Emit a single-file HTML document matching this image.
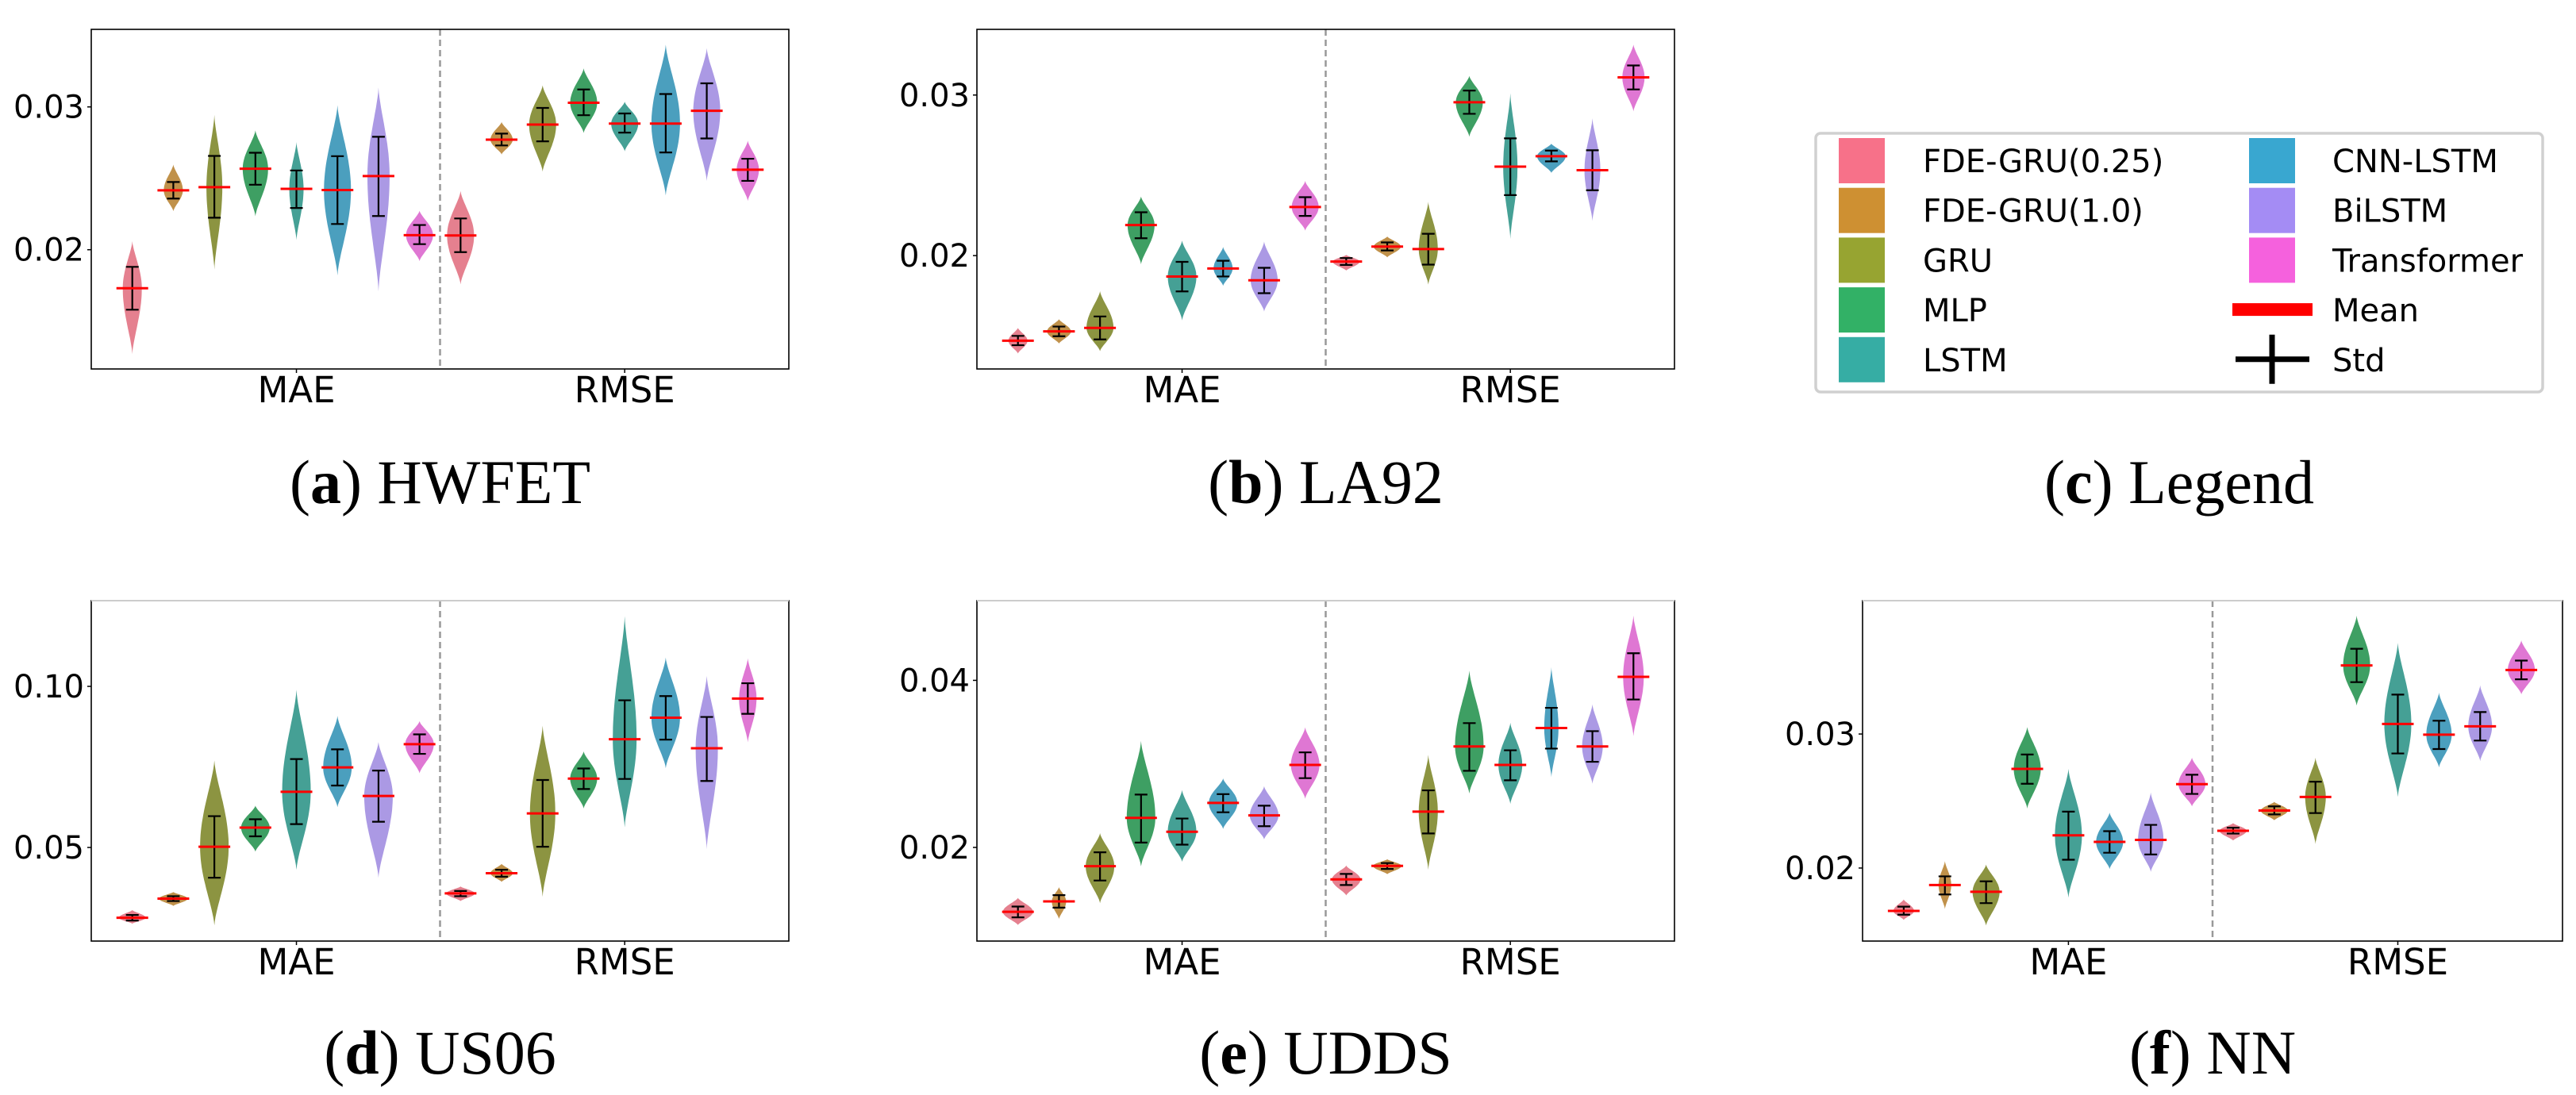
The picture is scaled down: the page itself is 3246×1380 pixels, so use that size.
<!DOCTYPE html>
<html><head><meta charset="utf-8"><style>
html,body{margin:0;padding:0;background:#fff;}
svg{display:block;}
.tick{font-family:"DejaVu Sans","Liberation Sans",sans-serif;font-size:40px;fill:#000;}
.cap{font-family:"Liberation Serif",serif;font-size:78px;fill:#000;}
.leg{font-family:"DejaVu Sans","Liberation Sans",sans-serif;font-size:40px;fill:#000;}
</style></head><body>
<svg id="fig" width="3246" height="1380" viewBox="0 0 3246 1380" xmlns="http://www.w3.org/2000/svg"></svg>
<script>
// ---------- data ----------
const models = ["FDE-GRU(0.25)","FDE-GRU(1.0)","GRU","MLP","LSTM","CNN-LSTM","BiLSTM","Transformer"];
const metrics = ["MAE","RMSE"];
const violinColors = ["#e5808f","#c0914a","#8c9441","#3e9f63","#45a095","#4b9fbe","#ab99e4","#df77d3"];
const legendColors = ["#f77189","#ce9032","#97a431","#32b166","#36ada4","#39a7d0","#a48cf4","#f561dd"];

// HWFET
const hwfetMean = [0.0173,0.02416,0.02438,0.02567,0.02426,0.02418,0.02516,0.02102, 0.0210,0.02771,0.02876,0.03029,0.02883,0.02883,0.02973,0.0256];
const hwfetStdHi = [0.0188,0.02474,0.02657,0.02679,0.02555,0.02655,0.02791,0.02173, 0.02219,0.02813,0.02993,0.03122,0.02954,0.0309,0.03165,0.02637];
const hwfetStdLo = [0.0158,0.02358,0.02224,0.02455,0.02292,0.0218,0.02236,0.02039, 0.01983,0.0273,0.02759,0.02942,0.0282,0.02681,0.02779,0.02482];
const hwfetMax = [0.0206,0.02596,0.02944,0.02835,0.02754,0.03012,0.03136,0.02273, 0.02411,0.02895,0.03151,0.0327,0.03036,0.03436,0.03411,0.02764];
const hwfetMin = [0.0127,0.0227,0.01861,0.02234,0.02068,0.0182,0.01708,0.0192, 0.01757,0.02667,0.02547,0.02818,0.02689,0.0238,0.02482,0.02341];
const hwfetW = [12,12,10,16,9,17,14,17, 17,14,17,17,17,18,17,14];

// LA92
const la92Mean = [0.0147,0.01528,0.0155,0.0219,0.0187,0.0192,0.01846,0.02303, 0.01963,0.02056,0.02041,0.02955,0.02554,0.02619,0.02532,0.0311];
const la92StdHi = [0.0150,0.01558,0.01621,0.0227,0.01961,0.01968,0.01924,0.02364, 0.01985,0.02082,0.02136,0.03028,0.0273,0.02654,0.02656,0.03184];
const la92StdLo = [0.01442,0.01498,0.01478,0.02108,0.01777,0.0187,0.01766,0.02247, 0.01942,0.02032,0.01944,0.02883,0.02377,0.02587,0.02407,0.03035];
const la92Max = [0.0155,0.01604,0.01779,0.02368,0.02093,0.02054,0.02087,0.02465, 0.02004,0.02119,0.02335,0.03119,0.03011,0.02697,0.02855,0.03314];
const la92Min = [0.0139,0.01452,0.01405,0.01946,0.01597,0.01812,0.01652,0.02156, 0.01907,0.01989,0.0182,0.0274,0.02104,0.02515,0.02216,0.02898];
const la92W = [12,15,17,17,18,12,17,17, 17,17,12,17,9,18,10,14];

// US06
const us06Mean = [0.02819,0.03413,0.05022,0.05616,0.06728,0.07484,0.06598,0.08207, 0.03575,0.0420,0.06058,0.07138,0.08359,0.09028,0.08078,0.09622];
const us06StdHi = [0.02905,0.03488,0.05972,0.05875,0.07743,0.08045,0.07387,0.0851, 0.0365,0.04309,0.07095,0.07451,0.09568,0.09698,0.0905,0.10097];
const us06StdLo = [0.02732,0.03337,0.0406,0.05346,0.05724,0.06922,0.05799,0.07905, 0.03488,0.04093,0.05022,0.06814,0.07127,0.08348,0.07063,0.09147];
const us06Max = [0.03056,0.03618,0.077,0.06296,0.09892,0.09082,0.08272,0.0892, 0.0379,0.04492,0.0878,0.07981,0.12181,0.10896,0.10324,0.10875];
const us06Min = [0.02635,0.03186,0.02581,0.0487,0.04309,0.06253,0.0406,0.073, 0.03337,0.03931,0.03467,0.0621,0.05626,0.07462,0.04946,0.08261];
const us06W = [17,18,18,18,18,18,18,18, 18,14,16,17,15,18,14,11];

// UDDS
const uddsMean = [0.01229,0.01354,0.01775,0.02354,0.02188,0.02533,0.02383,0.02988, 0.01617,0.01779,0.02429,0.03208,0.02988,0.03429,0.03208,0.04042];
const uddsStdHi = [0.01292,0.01429,0.01942,0.02633,0.02346,0.02638,0.025,0.03138, 0.01683,0.01813,0.02683,0.03488,0.03163,0.03671,0.03392,0.04325];
const uddsStdLo = [0.01163,0.01279,0.01604,0.02058,0.02033,0.02421,0.02254,0.02829, 0.0155,0.01742,0.02167,0.02917,0.02804,0.03183,0.03025,0.03771];
const uddsMax = [0.01396,0.01525,0.02171,0.03275,0.02688,0.02825,0.02733,0.03438, 0.01783,0.01858,0.03108,0.04117,0.03492,0.04158,0.03713,0.04775];
const uddsMin = [0.01071,0.01142,0.01333,0.01775,0.01829,0.02221,0.02096,0.02583, 0.01425,0.01679,0.01733,0.02646,0.02521,0.02842,0.02763,0.03333];
const uddsW = [19,9,18,18,18,18,18,18, 18,18,12,18,15,9,13,13];

// NN
const nnMean = [0.0168,0.01873,0.01823,0.0274,0.02244,0.02195,0.0221,0.02626, 0.02278,0.02429,0.0253,0.03512,0.03075,0.02995,0.03057,0.03478];
const nnStdHi = [0.01712,0.01938,0.01901,0.02847,0.02421,0.02275,0.02322,0.02696, 0.02301,0.0246,0.02644,0.03636,0.03294,0.03099,0.03164,0.03548];
const nnStdLo = [0.01652,0.01803,0.01738,0.02629,0.02062,0.02114,0.02101,0.02553, 0.02257,0.0240,0.0241,0.03387,0.02855,0.02888,0.02951,0.03408];
const nnMax = [0.01766,0.02052,0.02026,0.03052,0.0274,0.02413,0.02564,0.02823, 0.02335,0.02494,0.02823,0.03883,0.0368,0.03309,0.03364,0.03699];
const nnMin = [0.01613,0.01694,0.01571,0.02444,0.01779,0.01992,0.01971,0.0246, 0.02205,0.02356,0.02179,0.03213,0.0253,0.02751,0.02797,0.03296];
const nnW = [13,8,17,17,17,17,16,17, 17,17,13,17,17,16,15,17];

const hwfetTicks = [0.02,0.03], hwfetTickLabels = ["0.02","0.03"];
const la92Ticks = [0.02,0.03], la92TickLabels = ["0.02","0.03"];
const us06Ticks = [0.05,0.10], us06TickLabels = ["0.05","0.10"];
const uddsTicks = [0.02,0.04], uddsTickLabels = ["0.02","0.04"];
const nnTicks = [0.02,0.03], nnTickLabels = ["0.02","0.03"];

// ---------- drawing ----------
const NS="http://www.w3.org/2000/svg";
const svg=document.getElementById('fig');
function mk(tag,attrs,parent){const e=document.createElementNS(NS,tag);for(const k in attrs)e.setAttribute(k,attrs[k]);(parent||svg).appendChild(e);return e;}

function panel(cfg){
  const g=mk('g',{});
  
  
  const {x0,x1,y0,y1,vTop,vBot}=cfg;
  const ys=v=>y0+(vTop-v)/(vTop-vBot)*(y1-y0);
  const step=(x1-x0)/17;
  const xs=i=>x0+step*(i+1);
  // dashed separator
  const mid=(x0+x1)/2;
  const dl=mk('line',{x1:mid,y1:y0,x2:mid,y2:y1,stroke:'#999','stroke-width':2.5,'stroke-dasharray':'8,5'},g);
  
  
  // violins
  for(let i=0;i<16;i++){
    const c=violinColors[i%8];
    const cx=xs(i), top=ys(cfg.max[i]), bot=ys(cfg.min[i]), my=ys(cfg.mean[i]);
    let tp=(my-top)/(bot-top); tp=Math.min(0.75,Math.max(0.25,tp));
    const N=40, L=[], R=[];
    for(let k=0;k<=N;k++){
      const t=k/N;
      const s=t<tp? t/tp*0.5 : 0.5+(t-tp)/(1-tp)*0.5;
      const w=cfg.w[i]*Math.pow(Math.sin(Math.PI*s),1.4);
      const y=top+t*(bot-top);
      L.push((cx-w).toFixed(1)+','+y.toFixed(1));
      R.unshift((cx+w).toFixed(1)+','+y.toFixed(1));
    }
    const p=mk('polygon',{points:L.concat(R).join(' '),fill:c},g);
    
    
    const hi=ys(cfg.hi[i]), lo=ys(cfg.lo[i]);
    const sg=mk('g',{stroke:'#000','stroke-width':2.2},g);
    
    
    mk('line',{x1:cx,y1:hi,x2:cx,y2:lo},sg);
    mk('line',{x1:cx-8,y1:hi,x2:cx+8,y2:hi},sg);
    mk('line',{x1:cx-8,y1:lo,x2:cx+8,y2:lo},sg);
    const ml=mk('line',{x1:cx-20,y1:my,x2:cx+20,y2:my,stroke:'#ff0000','stroke-width':3},g);
    
    
  }
  // frame
  const fr=mk('rect',{x:x0,y:y0,width:x1-x0,height:y1-y0,fill:'none',stroke:'#000','stroke-width':1.6},g);
  
  
  if(cfg.lightTop){mk('line',{x1:x0,y1:y0,x2:x1,y2:y0,stroke:'#ccc','stroke-width':2},g);}
  // y ticks
  cfg.ticks.forEach((v,j)=>{
    const y=ys(v);
    mk('line',{x1:x0-5,y1:y,x2:x0,y2:y,stroke:'#000','stroke-width':1.5},g);
    const t=mk('text',{x:x0-9,y:y+14,'text-anchor':'end',class:'tick'},g);
    t.textContent=cfg.tickLabels[j];
    
    
  });
  // x labels
  [4,12].forEach((idx,j)=>{
    const x=xs(idx);
    mk('line',{x1:x,y1:y1,x2:x,y2:y1+5,stroke:'#000','stroke-width':1.5},g);
    const t=mk('text',{x:x,y:y1+42,'text-anchor':'middle',class:'tick','font-size':45},g);
    t.style.fontSize='45px';
    t.textContent=metrics[j];
    
    
  });
  // caption
  const cap=mk('text',{x:(x0+x1)/2,y:cfg.capY,'text-anchor':'middle',class:'cap'},g);
  cap.innerHTML='(<tspan font-weight="bold">'+cfg.letter+'</tspan>) '+cfg.title;
  
  
}

panel({name:'panel-hwfet',x0:115,x1:994,y0:37,y1:465,vTop:0.03543,vBot:0.01165,mean:hwfetMean,hi:hwfetStdHi,lo:hwfetStdLo,max:hwfetMax,min:hwfetMin,w:hwfetW,ticks:hwfetTicks,tickLabels:hwfetTickLabels,capY:634,letter:'a',title:'HWFET'});
panel({name:'panel-la92',x0:1231,x1:2110,y0:37,y1:465,vTop:0.03409,vBot:0.01294,mean:la92Mean,hi:la92StdHi,lo:la92StdLo,max:la92Max,min:la92Min,w:la92W,ticks:la92Ticks,tickLabels:la92TickLabels,capY:634,letter:'b',title:'LA92'});
panel({name:'panel-us06',x0:115,x1:994,y0:757,y1:1186,vTop:0.1266,vBot:0.02095,mean:us06Mean,hi:us06StdHi,lo:us06StdLo,max:us06Max,min:us06Min,w:us06W,ticks:us06Ticks,tickLabels:us06TickLabels,capY:1353,letter:'d',title:'US06',lightTop:true});
panel({name:'panel-udds',x0:1231,x1:2110,y0:757,y1:1186,vTop:0.04954,vBot:0.00879,mean:uddsMean,hi:uddsStdHi,lo:uddsStdLo,max:uddsMax,min:uddsMin,w:uddsW,ticks:uddsTicks,tickLabels:uddsTickLabels,capY:1353,letter:'e',title:'UDDS',lightTop:true});
panel({name:'panel-nn',x0:2347,x1:3229,y0:757,y1:1186,vTop:0.03995,vBot:0.01455,mean:nnMean,hi:nnStdHi,lo:nnStdLo,max:nnMax,min:nnMin,w:nnW,ticks:nnTicks,tickLabels:nnTickLabels,capY:1353,letter:'f',title:'NN',lightTop:true});

// ---------- legend ----------
const lg=mk('g',{});


mk('rect',{x:2288,y:168,width:916,height:326,rx:6,fill:'#fff',stroke:'#d0d0d0','stroke-width':3.5},lg);
models.forEach((m,i)=>{
  const col=i<5?0:1, row=i<5?i:i-5;
  const sx=col?2834:2317, tx=col?2939:2423;
  const sy=174+62.7*row;
  const r=mk('rect',{x:sx,y:sy,width:58,height:57,fill:legendColors[i]},lg);
  
  
  const t=mk('text',{x:tx,y:sy+43,class:'leg'},lg);
  t.textContent=m;
  
  
});
const meanY=174+62.7*3+28;
const mr=mk('rect',{x:2813,y:meanY-8,width:101,height:16,fill:'#ff0000'},lg);


const mt=mk('text',{x:2939,y:174+62.7*3+43,class:'leg'},lg);
mt.textContent='Mean';


const stdY=174+62.7*4+28;
mk('line',{x1:2817,y1:stdY,x2:2910,y2:stdY,stroke:'#000','stroke-width':7},lg);
mk('line',{x1:2863,y1:stdY-31,x2:2863,y2:stdY+31,stroke:'#000','stroke-width':7},lg);
const st=mk('text',{x:2939,y:174+62.7*4+43,class:'leg'},lg);
st.textContent='Std';


const lc=mk('text',{x:2746,y:634,'text-anchor':'middle',class:'cap'});
lc.innerHTML='(<tspan font-weight="bold">c</tspan>) Legend';


</script>
</body></html>
